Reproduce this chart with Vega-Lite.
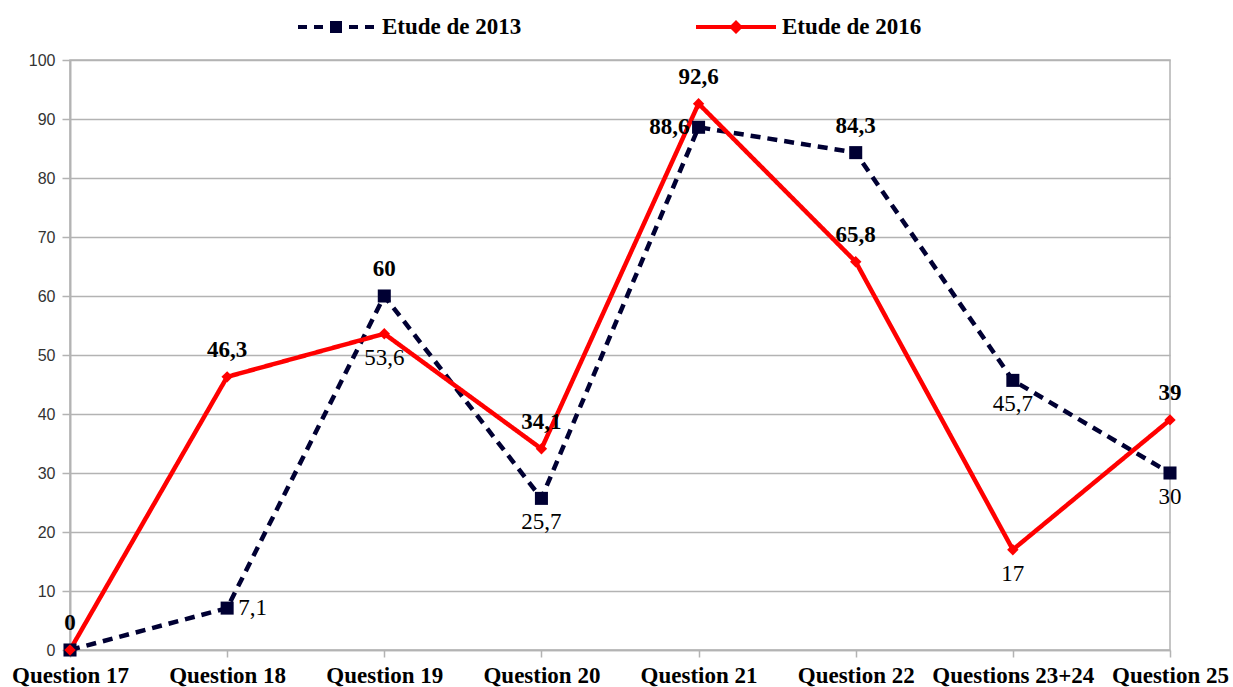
{
  "$schema": "https://vega.github.io/schema/vega-lite/v6.json",
  "width": 1100,
  "height": 590,
  "autosize": {"type": "none"},
  "padding": {"left": 70, "top": 60, "right": 63, "bottom": 37},
  "background": "white",
  "config": {
    "view": {"stroke": "#b3b3b3", "strokeWidth": 1.5},
    "locale": {"number": {"decimal": ",", "thousands": " ", "grouping": [3], "currency": ["", " €"]}}
  },
  "data": {
    "values": [
      {"question": "Question 17", "serie": "Etude de 2013", "value": 0},
      {"question": "Question 18", "serie": "Etude de 2013", "value": 7.1},
      {"question": "Question 19", "serie": "Etude de 2013", "value": 60},
      {"question": "Question 20", "serie": "Etude de 2013", "value": 25.7},
      {"question": "Question 21", "serie": "Etude de 2013", "value": 88.6},
      {"question": "Question 22", "serie": "Etude de 2013", "value": 84.3},
      {"question": "Questions 23+24", "serie": "Etude de 2013", "value": 45.7},
      {"question": "Question 25", "serie": "Etude de 2013", "value": 30},
      {"question": "Question 17", "serie": "Etude de 2016", "value": 0},
      {"question": "Question 18", "serie": "Etude de 2016", "value": 46.3},
      {"question": "Question 19", "serie": "Etude de 2016", "value": 53.6},
      {"question": "Question 20", "serie": "Etude de 2016", "value": 34.1},
      {"question": "Question 21", "serie": "Etude de 2016", "value": 92.6},
      {"question": "Question 22", "serie": "Etude de 2016", "value": 65.8},
      {"question": "Questions 23+24", "serie": "Etude de 2016", "value": 17},
      {"question": "Question 25", "serie": "Etude de 2016", "value": 39}
    ]
  },
  "encoding": {
    "x": {
      "field": "question",
      "type": "ordinal",
      "sort": null,
      "scale": {"type": "point", "padding": 0},
      "axis": {
        "title": null,
        "labelAngle": 0,
        "grid": false,
        "domainColor": "#b3b3b3",
        "domainWidth": 1.5,
        "tickColor": "#b3b3b3",
        "tickWidth": 1.5,
        "tickSize": 7,
        "labelPadding": 7,
        "labelFont": "Liberation Serif",
        "labelFontWeight": "bold",
        "labelFontSize": 23,
        "labelColor": "#000000"
      }
    },
    "y": {
      "field": "value",
      "type": "quantitative",
      "scale": {"domain": [0, 100], "nice": false},
      "axis": {
        "title": null,
        "values": [0, 10, 20, 30, 40, 50, 60, 70, 80, 90, 100],
        "grid": true,
        "gridColor": "#b3b3b3",
        "gridWidth": 1.5,
        "domainColor": "#b3b3b3",
        "domainWidth": 2,
        "tickColor": "#b3b3b3",
        "tickWidth": 1.5,
        "tickSize": 8,
        "labelPadding": 7,
        "labelFont": "Liberation Sans",
        "labelFontSize": 16,
        "labelColor": "#333333"
      }
    }
  },
  "layer": [
    {
      "mark": {"type": "line", "strokeWidth": 4.5},
      "encoding": {
        "color": {
          "field": "serie",
          "type": "nominal",
          "scale": {"domain": ["Etude de 2013", "Etude de 2016"], "range": ["#000033", "#ff0000"]},
          "legend": {
            "title": null,
            "orient": "none",
            "legendX": 226,
            "legendY": -73,
            "direction": "horizontal",
            "padding": 0,
            "symbolSize": 6400,
            "labelFont": "Liberation Serif",
            "labelFontWeight": "bold",
            "labelFontSize": 23,
            "labelColor": "#000000",
            "labelOffset": 6,
            "columnPadding": 174,
            "encode": {
              "symbols": {
                "update": {
                  "shape": {"signal": "datum.value === 'Etude de 2013' ? 'M-0.95,-0.05H-0.725V0.05H-0.95Z M-0.55,-0.05H-0.325V0.05H-0.55Z M-0.15,-0.15H0.15V0.15H-0.15Z M0.325,-0.05H0.55V0.05H0.325Z M0.725,-0.05H0.95V0.05H0.725Z' : 'M-1,-0.05H1V0.05H-1Z M0,-0.175L0.175,0L0,0.175L-0.175,0Z'"},
                  "fill": {"signal": "datum.value === 'Etude de 2013' ? '#000033' : '#ff0000'"},
                  "stroke": {"value": "transparent"},
                  "strokeWidth": {"value": 0},
                  "strokeDash": {"value": []},
                  "opacity": {"value": 1},
                  "fillOpacity": {"value": 1}
                }
              }
            }
          }
        },
        "strokeDash": {
          "field": "serie",
          "type": "nominal",
          "scale": {"domain": ["Etude de 2013", "Etude de 2016"], "range": [[10, 7], [1, 0]]},
          "legend": null
        }
      }
    },
    {
      "transform": [{"filter": "datum.serie==='Etude de 2013'"}],
      "mark": {"type": "point", "filled": true, "opacity": 1, "shape": "square", "size": 170, "color": "#000033"}
    },
    {
      "transform": [{"filter": "datum.serie==='Etude de 2016'"}],
      "mark": {"type": "point", "filled": true, "opacity": 1, "shape": "diamond", "size": 130, "color": "#ff0000"}
    },
    {
      "transform": [
        {"filter": "!((datum.serie==='Etude de 2013' && indexof(['Question 17','Question 18','Question 20','Question 21','Questions 23+24','Question 25'], datum.question)>=0) || (datum.serie==='Etude de 2016' && indexof(['Question 19','Questions 23+24'], datum.question)>=0))"}
      ],
      "mark": {"type": "text", "font": "Liberation Serif", "fontWeight": "bold", "fontSize": 23, "color": "#000000", "baseline": "middle", "align": "center", "dy": -27},
      "encoding": {"text": {"field": "value", "type": "quantitative", "format": "~g"}}
    },
    {
      "transform": [
        {"filter": "(datum.serie==='Etude de 2013' && indexof(['Question 20','Questions 23+24','Question 25'], datum.question)>=0) || (datum.serie==='Etude de 2016' && indexof(['Question 19','Questions 23+24'], datum.question)>=0)"}
      ],
      "mark": {"type": "text", "font": "Liberation Serif", "fontSize": 23, "color": "#000000", "baseline": "middle", "align": "center", "dy": 24},
      "encoding": {"text": {"field": "value", "type": "quantitative", "format": "~g"}}
    },
    {
      "transform": [
        {"filter": "datum.serie==='Etude de 2013' && datum.question==='Question 18'"}
      ],
      "mark": {"type": "text", "font": "Liberation Serif", "fontSize": 23, "color": "#000000", "baseline": "middle", "align": "left", "dx": 11, "dy": 0},
      "encoding": {"text": {"field": "value", "type": "quantitative", "format": "~g"}}
    },
    {
      "transform": [
        {"filter": "datum.serie==='Etude de 2013' && datum.question==='Question 21'"}
      ],
      "mark": {"type": "text", "font": "Liberation Serif", "fontWeight": "bold", "fontSize": 23, "color": "#000000", "baseline": "middle", "align": "right", "dx": -9, "dy": 0},
      "encoding": {"text": {"field": "value", "type": "quantitative", "format": "~g"}}
    }
  ]
}
